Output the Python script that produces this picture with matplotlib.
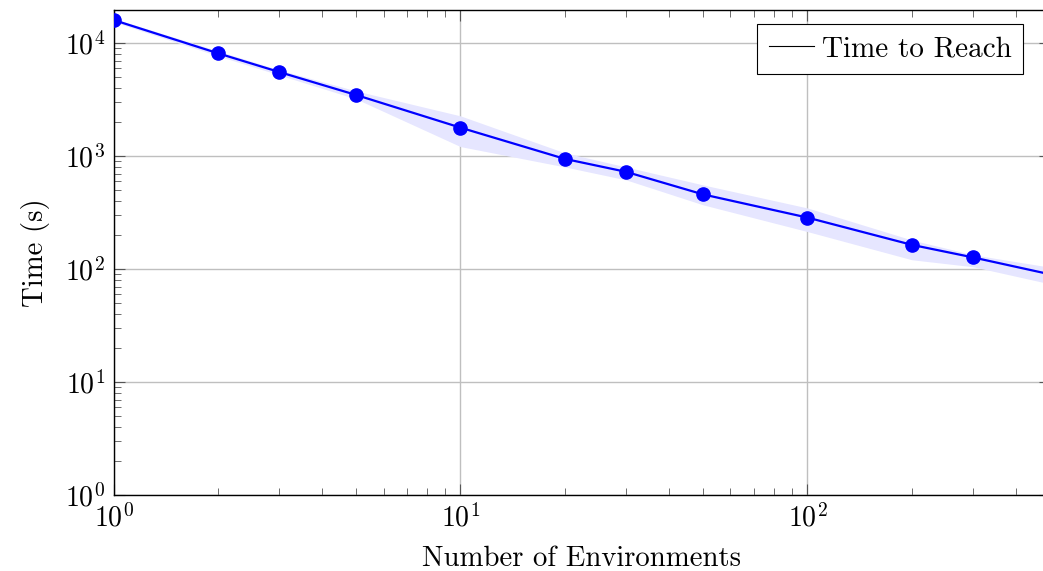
import numpy as np
import matplotlib
matplotlib.use("Agg")
import matplotlib.pyplot as plt
from matplotlib.lines import Line2D
from matplotlib.ticker import LogLocator

plt.rcParams['font.family'] = 'serif'
plt.rcParams['font.serif'] = ['cmr10', 'DejaVu Serif']
plt.rcParams['mathtext.fontset'] = 'cm'
plt.rcParams['axes.unicode_minus'] = False
plt.rcParams['axes.formatter.use_mathtext'] = True

# data
n_envs = [1, 2, 3, 5, 10, 20, 30, 50, 100, 200, 300, 500]
time_mean = [16070, 8155, 5570, 3486, 1790, 946, 727, 459, 286, 164, 127, 90]
time_upper = [16600, 8550, 5810, 3785, 2275, 1070, 803, 557, 348, 181, 134, 104]
time_lower = [15500, 7730, 5240, 3215, 1216, 803, 617, 371, 215, 121, 105, 74]

fig = plt.figure(figsize=(10.43, 5.71), dpi=100)
ax = fig.add_axes([113.5 / 1043, 1 - 495 / 571, (1050 - 113.5) / 1043, 485 / 571])

ax.fill_between(n_envs, time_lower, time_upper, color='#e6e6ff', lw=0, zorder=1)
ax.plot(n_envs, time_mean, color='blue', lw=1.6, marker='o', ms=9.5, zorder=3)

ax.set_xscale('log')
ax.set_yscale('log')
ax.set_xlim(1, 500)
ax.set_ylim(1, 19700)
ax.xaxis.set_major_locator(LogLocator(base=10, numticks=10))
ax.yaxis.set_major_locator(LogLocator(base=10, numticks=10))
ax.xaxis.set_minor_locator(LogLocator(base=10, subs=np.arange(2, 10), numticks=20))
ax.yaxis.set_minor_locator(LogLocator(base=10, subs=np.arange(2, 10), numticks=20))

ax.grid(True, which='major', color='#bfbfbf', lw=1.0, zorder=0)
ax.set_axisbelow(True)
ax.tick_params(which='both', direction='in', top=True, right=True, labelsize=20,
               color='#555555')
ax.tick_params(which='major', length=8, width=0.8, pad=6)
ax.tick_params(which='minor', length=5, width=0.6)
for s in ax.spines.values():
    s.set_linewidth(1.0)

ax.set_xlabel('Number of Environments', fontsize=20.7, labelpad=10)
ax.set_ylabel('Time (s)', fontsize=20.7, labelpad=11)

handle = Line2D([], [], color='black', lw=0.8)
leg = ax.legend([handle], ['Time to Reach'], loc='upper right', fontsize=21,
                fancybox=False, edgecolor='black', framealpha=1,
                handlelength=1.55, handletextpad=0.25, borderpad=0.4,
                borderaxespad=0,
                bbox_to_anchor=(1023 / 1043, 1 - 24 / 571),
                bbox_transform=fig.transFigure)
leg.get_frame().set_linewidth(0.8)

fig.savefig('out.png', dpi=100)
